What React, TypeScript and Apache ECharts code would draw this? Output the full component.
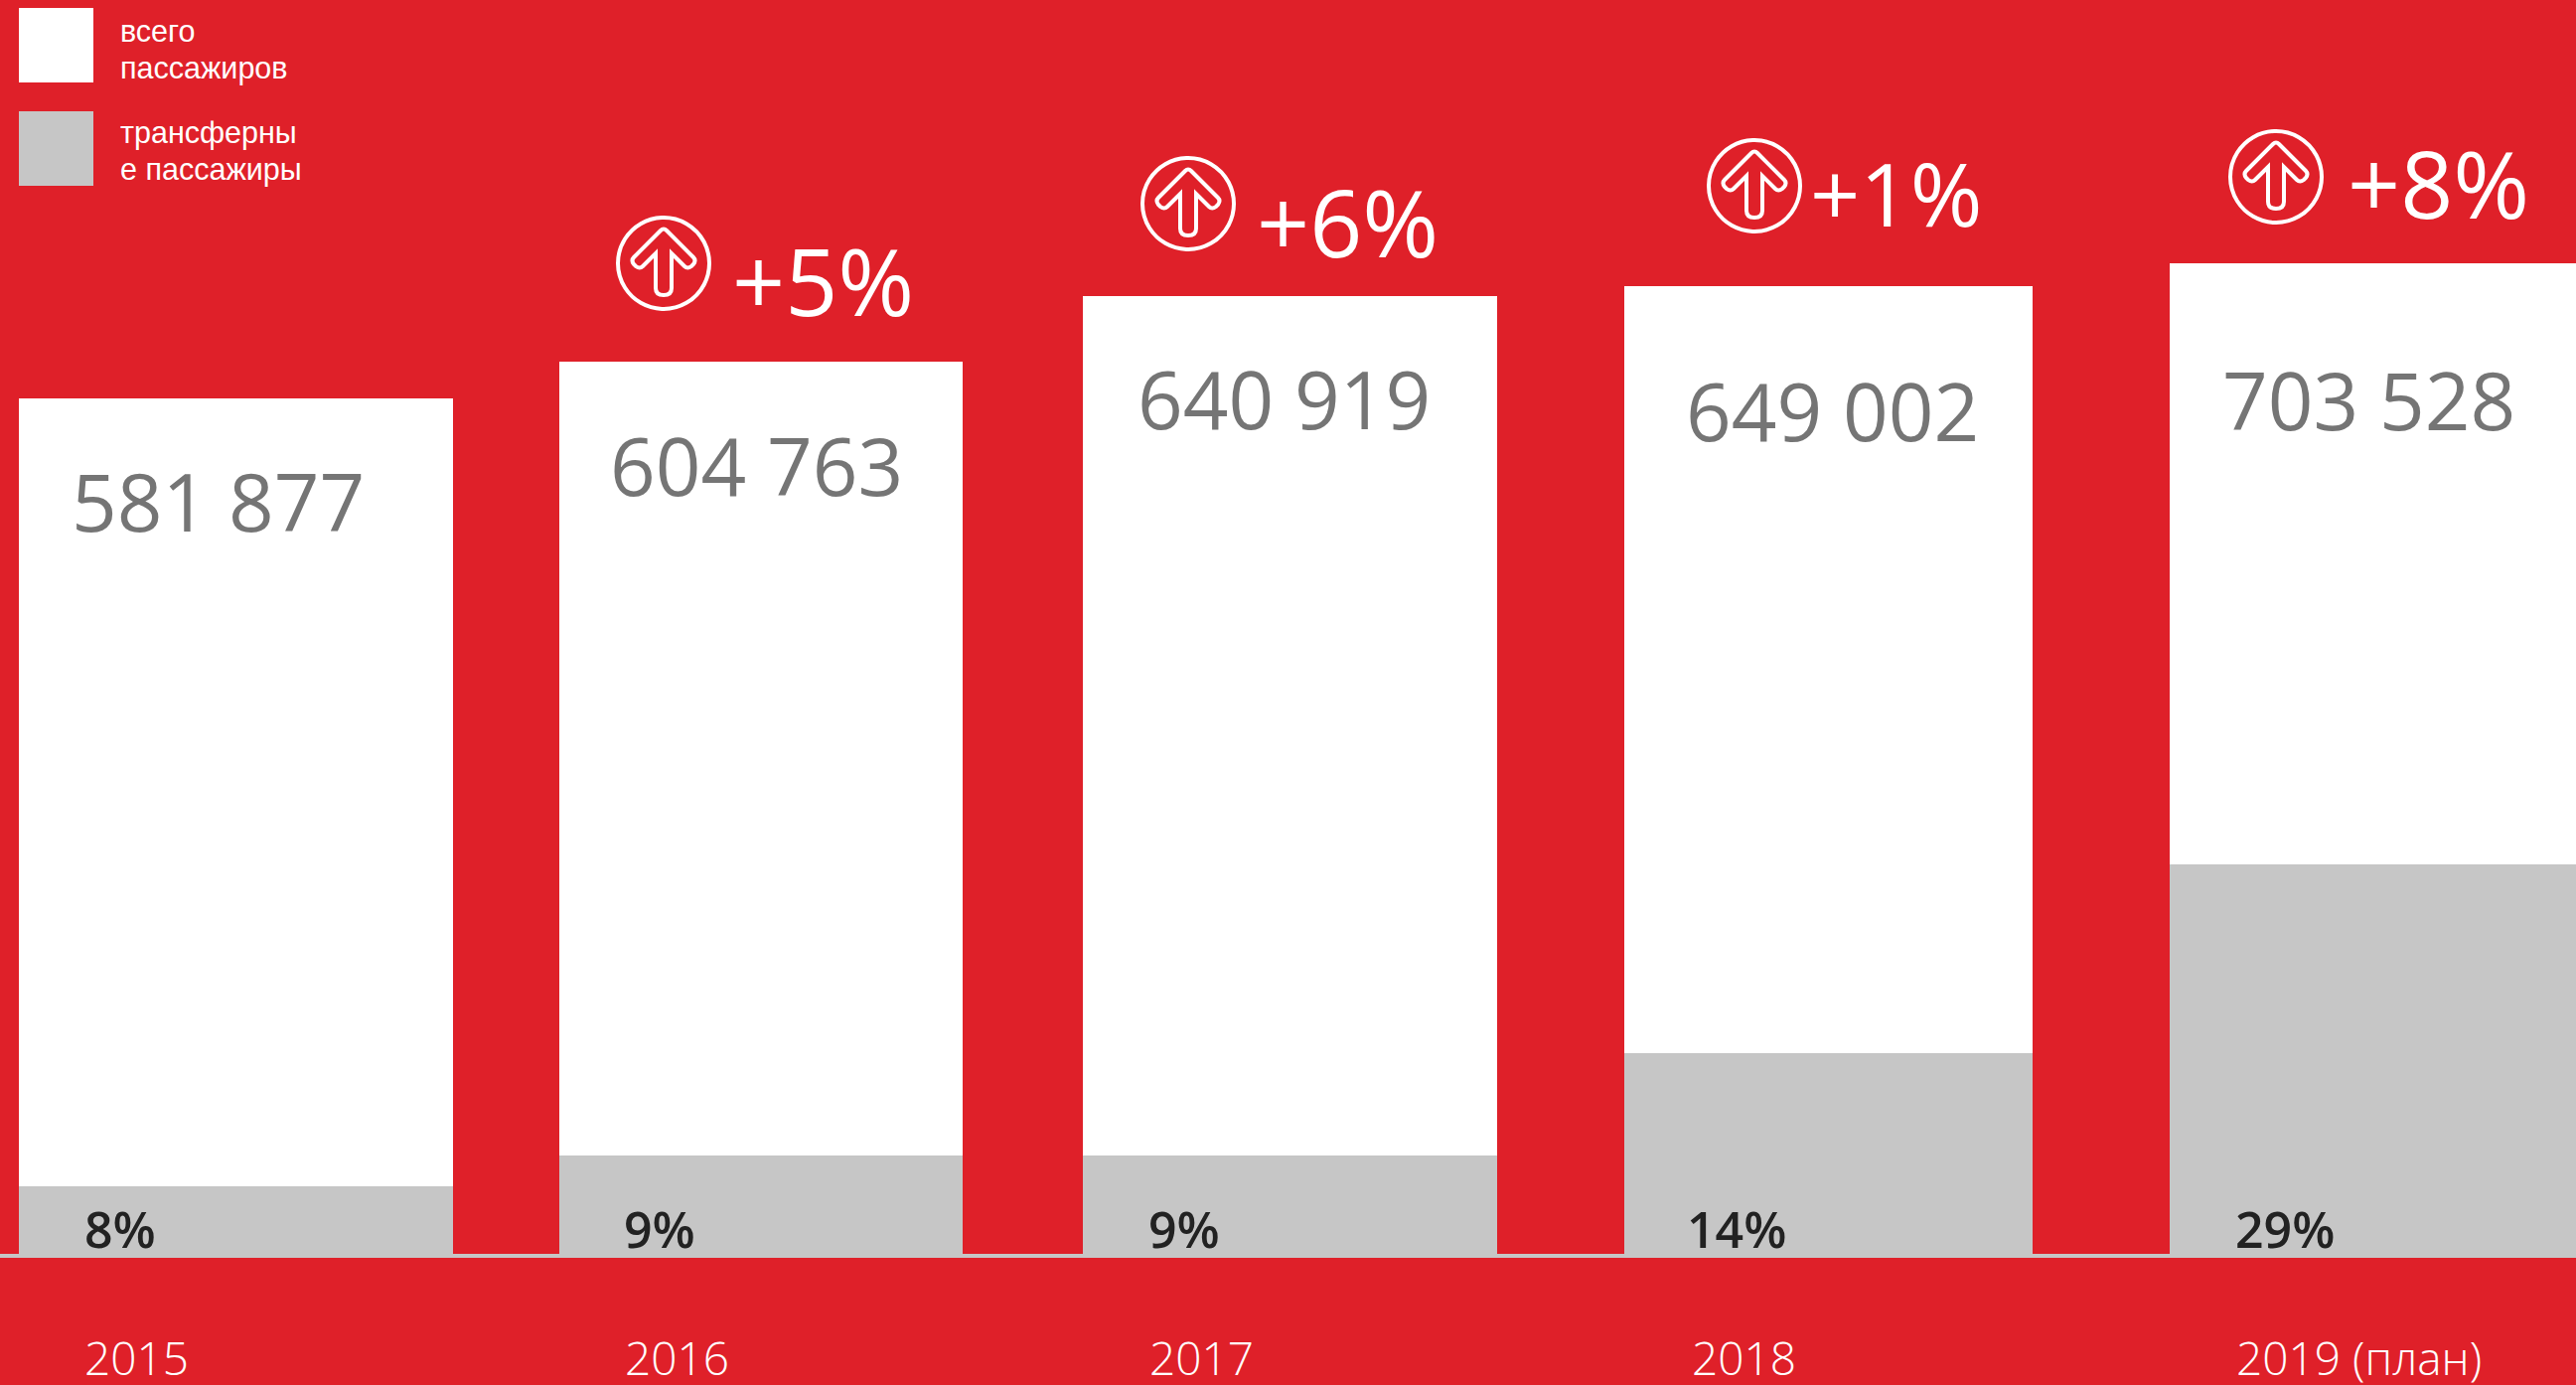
import React, { useEffect, useRef } from "react";
import * as echarts from "echarts";

const W = 2593;
const H = 1394;
const RED = "#df2029";
const GREY = "#c6c6c6";

// Text labels as printed in the picture
const years = ["2015", "2016", "2017", "2018", "2019 (план)"];
const totalLabels = ["581 877", "604 763", "640 919", "649 002", "703 528"];
const shareLabels = ["8%", "9%", "9%", "14%", "29%"];
const growthLabels = ["", "+5%", "+6%", "+1%", "+8%"];
const legendItems = ["всего\nпассажиров", "трансферны\nе пассажиры"];

// Drawn heights of the stacks (the bars of the original are not to scale with their labels)
const totalHeights = [863, 900, 966, 976, 999];
const transferHeights = [70, 101, 101, 204, 394];

// Layout
const BAR_LEFT = [19, 563, 1090, 1635, 2184];
const BAR_RIGHT = [456, 969, 1507, 2046, 2593];
const YEAR_X = [85, 629, 1157, 1703, 2251];
const BASE_Y = 1264;
const TOTAL_LABEL = [[72, 503], [614, 467], [1145, 400], [1697, 412], [2237, 401]];
const SHARE_LABEL = [[85, 1237], [628, 1237], [1156, 1237], [1698, 1237], [2250, 1237]];
const GROWTH = [null, [668, 265, 737, 282, 93], [1196, 205, 1265, 223, 93], [1766, 187, 1822, 194, 88], [2291, 178, 2363, 184, 93]] as (number[] | null)[];

echarts.graphic.registerShape(
  "upArrow",
  echarts.graphic.extendPath(
    "M-3 -33 Q0 -36 3 -33 L30 -6 Q33 -3 30 1 L28 3 Q24 6 21 3 L8 -10 L8 25 Q8 32 0 32 Q-8 32 -8 25 L-8 -10 L-21 3 Q-24 6 -28 3 L-30 1 Q-33 -3 -30 -6 Z",
    {}
  ) as any
);

function renderStack(_: any, api: any) {
  const i = api.value(0);
  const x0 = api.coord([BAR_LEFT[i], 0])[0];
  const x1 = api.coord([BAR_RIGHT[i], 0])[0];
  const base = api.coord([0, 0])[1];
  const top = api.coord([0, api.value(1)])[1];
  const mid = api.coord([0, api.value(2)])[1];
  return {
    type: "group",
    children: [
      { type: "rect", shape: { x: x0, y: top, width: x1 - x0, height: mid - top }, style: { fill: "#ffffff" } },
      { type: "rect", shape: { x: x0, y: mid, width: x1 - x0, height: base - mid }, style: { fill: GREY } },
    ],
  };
}

export default function App() {
  const ref = useRef<HTMLDivElement>(null);
  useEffect(() => {
    const chart = echarts.init(ref.current!, null, { renderer: "svg" });
    const text = (x: number, y: number, t: string, size: number, fill: string, family: string, weight: any = 400, lineHeight?: number) => ({
      type: "text",
      x,
      y,
      z: 10,
      silent: true,
      style: { text: t, fill, fontSize: size, fontFamily: family, fontWeight: weight, lineHeight, textAlign: "left", textVerticalAlign: "middle" },
    });
    const graphic: any[] = [
      { type: "rect", z: 10, shape: { x: 19, y: 8, width: 75, height: 75 }, style: { fill: "#ffffff" } },
      { type: "rect", z: 10, shape: { x: 19, y: 112, width: 75, height: 75 }, style: { fill: GREY } },
      text(121, 49, legendItems[0], 30.5, "#ffffff", "Liberation Sans", 400, 37),
      text(121, 151, legendItems[1], 30.5, "#ffffff", "Liberation Sans", 400, 37),
    ];
    totalLabels.forEach((t, i) => {
      graphic.push(text(TOTAL_LABEL[i][0], TOTAL_LABEL[i][1], t, 80, "#757575", "Open Sans", 400));
      graphic.push(text(SHARE_LABEL[i][0], SHARE_LABEL[i][1], shareLabels[i], 50, "#222222", "Open Sans", 600));
      const g = GROWTH[i];
      if (g) {
        graphic.push({ type: "circle", z: 10, shape: { cx: g[0], cy: g[1], r: 46 }, style: { fill: "none", stroke: "#ffffff", lineWidth: 4 } });
        graphic.push({ type: "upArrow", z: 10, x: g[0], y: g[1], style: { fill: "none", stroke: "#ffffff", lineWidth: 4 } });
        graphic.push(text(g[2], g[3], growthLabels[i], g[4], "#ffffff", "Open Sans", 400));
      }
    });
    chart.setOption({
      animation: false,
      backgroundColor: RED,
      grid: { left: 0, right: 0, top: 0, bottom: H - BASE_Y },
      xAxis: {
        type: "value",
        min: 0,
        max: W,
        splitLine: { show: false },
        axisTick: { show: false },
        axisLine: { show: true, onZero: false, lineStyle: { color: GREY, width: 4 } },
        axisLabel: {
          customValues: YEAR_X,
          formatter: (v: number) => years[YEAR_X.indexOf(v)] ?? "",
          color: "#ffffff",
          fontSize: 46,
          lineHeight: 40,
          fontFamily: "Open Sans",
          fontWeight: 300,
          margin: 82,
          align: "left",
          hideOverlap: false,
        },
      },
      yAxis: { type: "value", min: 0, max: BASE_Y, show: false, splitLine: { show: false } },
      series: [
        {
          type: "custom",
          coordinateSystem: "cartesian2d",
          renderItem: renderStack,
          encode: { x: 0, y: 1 },
          data: totalHeights.map((h, i) => [i, h, transferHeights[i]]),
        },
      ],
      graphic,
    });
    return () => chart.dispose();
  }, []);
  return <div ref={ref} style={{ width: W, height: H, position: "fixed", left: 0, top: 0 }} />;
}
